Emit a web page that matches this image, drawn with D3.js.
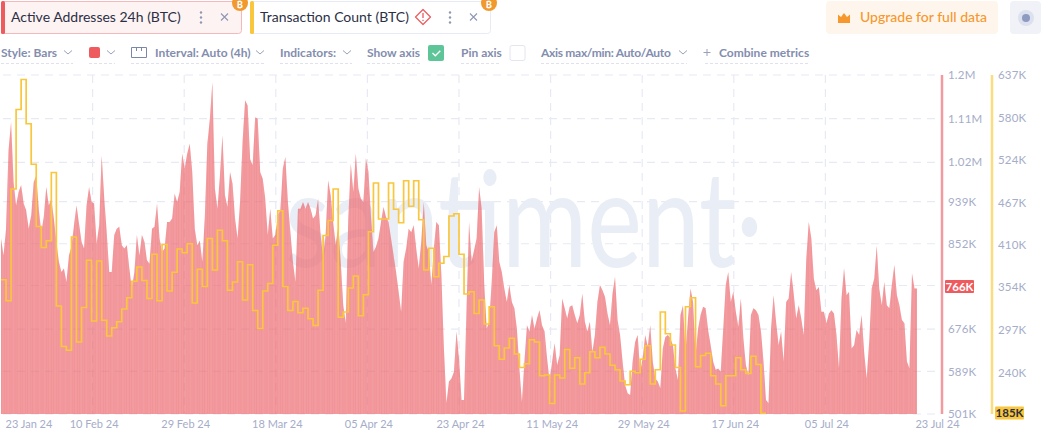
<!DOCTYPE html>
<html>
<head>
<meta charset="utf-8">
<script src="https://cdn.jsdelivr.net/npm/d3@7"></script>
<style>
  html, body { margin: 0; padding: 0; background: #fff; overflow: hidden; }
  svg { display: block; font-family: "Lato", "Inter", sans-serif; }
  .axis path, .axis line { display: none; }
  .axis text { fill: #a5adc8; font-size: 11.5px; font-family: "Lato", sans-serif; letter-spacing: 0.2px; }
  .dates text { font-size: 11px; letter-spacing: 0; }
  .tool { fill: #838dae; font-size: 12px; font-weight: 700; }
</style>
</head>
<body>
<svg id="chart" width="1041" height="438"></svg>
<script>
// active addresses 24h, thousands, one reading every 12h
const addressesJan = [863,828,883,1045,1103,979,931,959,973,935,921,883,911,979,993,924,876,907,969,931,945,904,856,815,794,801,773,828,846,890,931,894,856,842,931,969,938,935,852,890,1034,948,876,794,794,870,883,887,849,842,849,801,760,794,870,828,870,856,818,811,883];
const addressesFeb = [887,935,863,835,842,897,897,904,955,938,959,1038,1007,1038,1058,1000,883,849,859,815,907,1058,1110,1185,966,924,993,1075,952,928,1000,976,904,863,938,1062,1148,1137,1027,1014,1113,1110,1000,986,945,870,924,863,870,911,921,1007,1031,938,876,815,773,924,924,938];
const addressesApr = [924,938,924,904,911,945,870,825,870,983,952,897,849,887,815,725,688,904,1017,959,1038,966,945,938,1029,1001,911,835,846,863,897,928,907,897,863,828,794,753,712,815,842,883,876,890,842,801,856,938,849,835,767,842,897,890,787,636,523,568,574,588];
const addressesMay = [671,616,530,530,719,897,815,839,863,969,924,773,677,691,773,876,890,815,794,760,732,767,732,719,677,595,526,609,684,671,705,677,698,715,684,671,616,568,609,647,602,622,739,719,698,722,725,705,688,705,749,691,671,691,629,664,732,767,756];
const addressesJun = [743,708,684,749,784,695,664,609,561,544,540,609,650,664,588,616,664,640,684,609,574,568,554,636,660,664,657,643,595,571,705,725,629,698,760,732,622,677,705,722,719,674,643,609,592,595,588,677,767,794,732,753,712,681,739,657,602,581,705];
const addressesJul = [719,715,705,671,609,530,523,677,746,691,643,671,609,732,739,794,749,698,725,698,664,821,897,863,780,756,763,712,712,688,708,715,708,664,595,739,802,746,753,636,643,674,664,705,629,574,650,760,780,848,760,725,773,725,719,767,808,746,725,695,688,609,595,791,760];

// transaction count, thousands, one reading per day
const txCounts = [364,336,485,591,631,572,518,435,407,416,507,329,275,270,421,281,327,390,309,389,310,289,300,308,325,340,362,381,363,339,398,336,411,349,374,405,400,412,333,378,355,419,377,430,416,350,361,388,337,384,323,299,349,359,410,456,355,323,335,320,326,312,303,350,423,443,485,314,321,353,369,316,344,428,493,445,445,493,458,440,496,462,496,444,377,406,368,386,395,449,452,398,345,348,319,337,305,328,276,258,273,286,265,247,252,284,281,236,237,199,237,233,271,246,260,225,240,268,260,274,265,250,244,229,224,242,240,258,276,225,244,321,292,277,247,189,328,340,248,263,266,236,225,196,236,236,260,244,239,262,251,186];

const addressTicks = [501,589,676,766,852,939,1020,1110,1200];
const addressLabels = ["501K","589K","676K","","852K","939K","1.02M","1.11M","1.2M"];
const txTicks = [185,240,297,354,410,467,524,580,637];
const txLabels = ["","240K","297K","354K","410K","467K","524K","580K","637K"];
const dateLabels = ["23 Jan 24","10 Feb 24","29 Feb 24","18 Mar 24","05 Apr 24","23 Apr 24","11 May 24","29 May 24","17 Jun 24","05 Jul 24","23 Jul 24"];

const startDate = new Date(2024, 0, 23);
const endDate = new Date(2024, 6, 23);
const hour = 3600000;

const x = d3.scaleTime().domain([startDate, endDate]).range([1, 917]);
const yAddr = d3.scaleLinear().domain([501, 1200]).range([414, 75]);
const yTx = d3.scaleLinear().domain([185, 637]).range([414, 75]);

const svg = d3.select("#chart");

// ---- chart ----
const tickDates = d3.range(11).map(i => new Date(+startDate + i * (endDate - startDate) / 10));

const grid = svg.append("g").attr("stroke", "#e7eaf4").attr("stroke-width", 1.2).attr("stroke-dasharray", "8 6");
grid.selectAll("line.h").data(addressTicks).join("line")
    .attr("x1", 3).attr("x2", 938)
    .attr("y1", d => yAddr(d)).attr("y2", d => yAddr(d));
grid.selectAll("line.v").data(tickDates.slice(1, 10)).join("line")
    .attr("x1", d => x(d)).attr("x2", d => x(d))
    .attr("y1", 75).attr("y2", 414);

svg.append("text").attr("x", 285).attr("y", 267)
    .attr("font-family", "Lato").attr("font-weight", 400).attr("font-size", 134)
    .attr("fill", "#e9edf5").attr("textLength", 478).attr("lengthAdjust", "spacingAndGlyphs")
    .text("santiment·");

// outline of the readings, the 4h bars below are cut to it
const addresses = [].concat(addressesJan, addressesFeb, addressesApr, addressesMay, addressesJun, addressesJul);
const readings = addresses.map((v, i) => ({ t: new Date(+startDate + i * 12 * hour), v: v }));
readings.push({ t: endDate, v: addresses[addresses.length - 1] });

const outline = d3.area()
    .x(d => x(d.t)).y0(yAddr(501)).y1(d => yAddr(d.v));

svg.append("clipPath").attr("id", "outline")
    .append("path").datum(readings).attr("d", outline);

const barTimes = d3.timeHour.range(startDate, endDate, 4);
const barW = (x(new Date(+startDate + 4 * hour)) - x(startDate)) * 0.8;

svg.append("g").attr("clip-path", "url(#outline)").attr("fill", "#ec6a70")
    .selectAll("rect").data(barTimes).join("rect")
    .attr("x", d => x(d))
    .attr("width", barW)
    .attr("y", yAddr(1200))
    .attr("height", yAddr(501) - yAddr(1200));

const txLine = d3.line()
    .x(d => x(d.t)).y(d => yTx(d.v))
    .curve(d3.curveStepAfter);
const txPoints = txCounts.map((v, i) => ({ t: d3.timeDay.offset(startDate, i), v: v }));
txPoints.push({ t: d3.timeDay.offset(startDate, txCounts.length), v: txCounts[txCounts.length - 1] });

svg.append("path").datum(txPoints)
    .attr("fill", "none").attr("stroke", "#f9c63c").attr("stroke-width", 1.7)
    .attr("d", txLine);

// ---- axes ----
svg.append("line").attr("x1", 942).attr("x2", 942).attr("y1", 75).attr("y2", 414)
    .attr("stroke", "#f29a9e").attr("stroke-width", 2.5);
svg.append("line").attr("x1", 992).attr("x2", 992).attr("y1", 75).attr("y2", 414)
    .attr("stroke", "#fbdc7f").attr("stroke-width", 2.5);

svg.append("g").attr("class", "axis").attr("transform", "translate(942,0)")
    .call(d3.axisRight(yAddr).tickValues(addressTicks).tickSize(0).tickPadding(6)
        .tickFormat((d, i) => addressLabels[i]));
svg.append("g").attr("class", "axis").attr("transform", "translate(992,0)")
    .call(d3.axisRight(yTx).tickValues(txTicks).tickSize(0).tickPadding(6)
        .tickFormat((d, i) => txLabels[i]));

const xAxis = svg.append("g").attr("class", "axis dates").attr("transform", "translate(0,418)")
    .call(d3.axisBottom(x).tickValues(tickDates).tickSize(0).tickPadding(2)
        .tickFormat((d, i) => dateLabels[i]));
xAxis.selectAll("text").attr("dx", 1);
xAxis.selectAll("text").filter((d, i) => i === 0).attr("text-anchor", "start").attr("dx", 4);
xAxis.selectAll("text").filter((d, i) => i === 10).attr("text-anchor", "middle").attr("dx", 20);

function valueTag(px, py, label, fill, color) {
    svg.append("rect").attr("x", px).attr("y", py - 6.5).attr("width", 29).attr("height", 13)
        .attr("rx", 1).attr("fill", fill);
    svg.append("text").attr("x", px + 14.5).attr("y", py + 4).attr("text-anchor", "middle")
        .attr("font-size", 11.5).attr("font-weight", 700).attr("fill", color).text(label);
}
valueTag(945, 286.5, "766K", "#ee5a5e", "#fff");
valueTag(995, 413, "185K", "#f9c63c", "#2a2f45");

// ---- metric chips ----
function chip(px, w, fill, border, accent, label) {
    svg.append("rect").attr("x", px + 0.5).attr("y", 1.5).attr("width", w).attr("height", 32)
        .attr("rx", 3).attr("fill", fill).attr("stroke", border);
    svg.append("rect").attr("x", px).attr("y", 1).attr("width", 4).attr("height", 33)
        .attr("rx", 1.5).attr("fill", accent);
    svg.append("text").attr("x", px + 10).attr("y", 22).attr("font-size", 14)
        .attr("fill", "#2b3045").text(label);
    const right = px + w;
    svg.selectAll(null).data([-5, 0, 5]).join("circle")
        .attr("cx", right - 40).attr("cy", d => 17.5 + d).attr("r", 1.2).attr("fill", "#8e97b4");
    svg.append("path").attr("d", `M${right - 20} 13.5l7 7m0 -7l-7 7`)
        .attr("stroke", "#8e97b4").attr("stroke-width", 1.1).attr("fill", "none");
    svg.append("circle").attr("cx", right - 1).attr("cy", 3).attr("r", 8).attr("fill", "#f2992e");
    svg.append("text").attr("x", right - 1).attr("y", 8).attr("text-anchor", "middle")
        .attr("font-size", 9).attr("font-weight", 700).attr("fill", "#fff").text("₿");
}
chip(1, 240, "#fef3f3", "#f6b9bb", "#ee5a5e", "Active Addresses 24h (BTC)");
chip(250, 240, "#fff", "#e8ebf5", "#f9c63c", "Transaction Count (BTC)");

svg.append("path").attr("d", "M423 9.5l7.5 7.5l-7.5 7.5l-7.5 -7.5z")
    .attr("fill", "#fff").attr("stroke", "#ee5a5e").attr("stroke-width", 1.2).attr("stroke-linejoin", "round");
svg.append("path").attr("d", "M423 13v5m0 1.8v1.3").attr("stroke", "#ee5a5e").attr("stroke-width", 1.3);

// ---- upgrade button and toggle ----
svg.append("rect").attr("x", 826).attr("y", 1).attr("width", 172).attr("height", 33).attr("rx", 4).attr("fill", "#fef6ec");
svg.append("path").attr("d", "M838 23v-8.5l3 2.5l3 -4l3 4l3 -2.5v8.5z").attr("fill", "#f7982f");
svg.append("text").attr("x", 860).attr("y", 22).attr("font-size", 14).attr("font-weight", 500)
    .attr("fill", "#f7982f").text("Upgrade for full data");
svg.append("rect").attr("x", 1010).attr("y", 1).attr("width", 31).attr("height", 33).attr("rx", 4).attr("fill", "#f0f2f8");
svg.append("circle").attr("cx", 1026).attr("cy", 18).attr("r", 8).attr("fill", "#dde1ee");
svg.append("circle").attr("cx", 1026).attr("cy", 18).attr("r", 4).attr("fill", "#8d9ac1");

// ---- settings row ----
const toolLabels = [
    { px: 1, t: "Style: Bars" },
    { px: 155, t: "Interval: Auto (4h)" },
    { px: 280, t: "Indicators:" },
    { px: 367, t: "Show axis" },
    { px: 461, t: "Pin axis" },
    { px: 541, t: "Axis max/min: Auto/Auto", tight: true },
    { px: 719, t: "Combine metrics" }
];
svg.selectAll("text.tool").data(toolLabels).join("text")
    .attr("class", "tool").attr("x", d => d.px).attr("y", 56.5)
    .attr("letter-spacing", d => d.tight ? -0.3 : 0)
    .text(d => d.t);

const chevrons = [68, 111, 260, 347, 683];
svg.selectAll("path.chev").data(chevrons).join("path").attr("class", "chev")
    .attr("d", d => `M${d - 4} 50.5l4 3.5l4 -3.5`)
    .attr("fill", "none").attr("stroke", "#98a1bc").attr("stroke-width", 1);

const underlines = [[1, 73], [89, 115], [131, 264], [280, 352], [367, 420], [461, 501], [541, 687], [705, 808]];
svg.selectAll("line.under").data(underlines).join("line").attr("class", "under")
    .attr("x1", d => d[0]).attr("x2", d => d[1]).attr("y1", 63.5).attr("y2", 63.5)
    .attr("stroke", "#dfe2ec").attr("stroke-dasharray", "3 2");

svg.append("rect").attr("x", 89).attr("y", 47).attr("width", 11).attr("height", 11).attr("rx", 2).attr("fill", "#ee5a5e");
svg.append("path").attr("d", "M131.5 47.5h15v10h-15zM136.5 47.5v3.5M141.5 47.5v3.5")
    .attr("fill", "none").attr("stroke", "#7c86a8");
svg.append("rect").attr("x", 428).attr("y", 45).attr("width", 16).attr("height", 16).attr("rx", 2).attr("fill", "#5ec598");
svg.append("path").attr("d", "M432.5 53l2.8 2.8l5 -5").attr("fill", "none").attr("stroke", "#fff").attr("stroke-width", 1.3);
svg.append("rect").attr("x", 510).attr("y", 45.5).attr("width", 15).attr("height", 15).attr("rx", 2).attr("fill", "#fff").attr("stroke", "#e3e6f0");
svg.append("path").attr("d", "M703.5 52.5h7m-3.5 -3.5v7").attr("stroke", "#98a1bc").attr("stroke-width", 1);
</script>
</body>
</html>
